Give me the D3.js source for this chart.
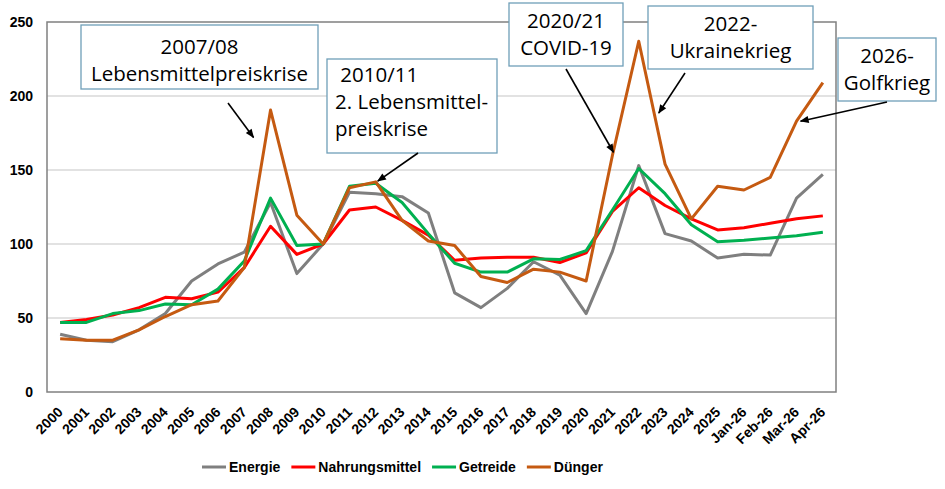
<!DOCTYPE html>
<html>
<head>
<meta charset="utf-8">
<script src="https://cdn.jsdelivr.net/npm/d3@7"></script>
<style>
  html, body { margin: 0; padding: 0; background: #fff; }
  svg { display: block; }
</style>
</head>
<body>
<svg id="chart" width="945" height="489"></svg>
<script>
// ---------- data ----------
const categories = ["2000","2001","2002","2003","2004","2005","2006","2007","2008","2009",
  "2010","2011","2012","2013","2014","2015","2016","2017","2018","2019",
  "2020","2021","2022","2023","2024","2025","Jan-26","Feb-26","Mar-26","Apr-26"];

const energie = [39,35,34,42,53,75,86.5,94.5,128,80,100,135,134,132,121,67,57,70,88,79,53,95,153,107,102,90.5,93,92.5,131,147];
const nahrungsmittel = [47,49,52,57,64,63,67.5,84,112,93,100,123,125,116,106,89,90.5,91,91,87.5,94,122,138,126,117,109.5,111,114,117,119];
const getreide = [47,47,53,55,59.5,59,69.5,88.5,131,99,100,139,141,128,107,87,81,81,90,89.5,95.5,123,151,134,113,101.5,102.5,104,105.5,108];
const duenger = [36,35,35,42,51,59,61.5,84,190.5,119.5,100,138,142,116,102,99,78,74,83,81,75,160,237,154,117,139,136.5,145,183,209];

const seriesNames = ["Energie","Nahrungsmittel","Getreide","Dünger"];
const seriesValues = [energie, nahrungsmittel, getreide, duenger];
const seriesColors = ["#7f7f7f","#ff0000","#00b050","#c55a11"];

const yTicks = [0,50,100,150,200,250];

// annotations: text lines, target category/value
const annotations = [
  { lines: ["2007/08","Lebensmittelpreiskrise"], align: "middle", box: [81,25,318,89], base: 54, target: ["2008",172], dx: -17, from: [228,103] },
  { lines: ["\u00a02010/11","2. Lebensmittel-","preiskrise"], align: "start", box: [327,59,497,153], base: 82, target: ["2012",142.5], dx: 2, from: [418,153] },
  { lines: ["2020/21","COVID-19"], align: "middle", box: [509,3,623,66], base: 28, target: ["2021",162], dx: 1, from: [566,69] },
  { lines: ["2022-","Ukrainekrieg"], align: "middle", box: [648,6,813,69], base: 31, target: ["2022",188.5], dx: 20, from: [685,73] },
  { lines: ["2026-","Golfkrieg"], align: "middle", box: [838,38,936,101], base: 63, target: ["Mar-26",183], dx: 4, from: [887,102] }
];

// ---------- layout ----------
const svg = d3.select("#chart");
const plot = { left: 47, right: 836, top: 22, bottom: 392 };

const x = d3.scalePoint().domain(categories).range([plot.left, plot.right]).padding(0.5);
const y = d3.scaleLinear().domain([0, 250]).range([plot.bottom, plot.top]);

// gridlines
svg.append("g").selectAll("line").data(yTicks.filter(t => t > 0 && t < 250)).join("line")
  .attr("x1", plot.left).attr("x2", plot.right)
  .attr("y1", d => y(d)).attr("y2", d => y(d))
  .attr("stroke", "#d9d9d9").attr("stroke-width", 1.5);

// frame
svg.append("rect")
  .attr("x", plot.left).attr("y", plot.top)
  .attr("width", plot.right - plot.left).attr("height", plot.bottom - plot.top)
  .attr("fill", "none").attr("stroke", "#808080").attr("stroke-width", 1.5);

// y axis labels
const yAxis = d3.axisLeft(y).tickValues(yTicks).tickSize(0).tickPadding(14);
const gy = svg.append("g").attr("transform", `translate(${plot.left},0)`).call(yAxis);
gy.select(".domain").remove();
gy.selectAll("text")
  .attr("font-family", "Liberation Sans, Arial, sans-serif")
  .attr("font-weight", "bold").attr("font-size", 14).attr("fill", "#000");

// x axis labels
const xAxis = d3.axisBottom(x).tickSize(0).tickPadding(0);
const gx = svg.append("g").attr("transform", `translate(0,${plot.bottom})`).call(xAxis);
gx.select(".domain").remove();
gx.selectAll("text")
  .attr("font-family", "Liberation Sans, Arial, sans-serif")
  .attr("font-weight", "bold").attr("font-size", 14).attr("fill", "#000")
  .attr("text-anchor", "end")
  .attr("dy", 0)
  .attr("transform", "translate(3,21) rotate(-45)");

// lines
const line = d3.line().x((d, i) => x(categories[i])).y(d => y(d));
svg.append("g").selectAll("path").data(seriesValues).join("path")
  .attr("d", d => line(d))
  .attr("fill", "none")
  .attr("stroke", (d, i) => seriesColors[i])
  .attr("stroke-width", 3)
  .attr("stroke-linejoin", "round");

// arrow marker
svg.append("defs").append("marker")
  .attr("id", "arrow").attr("viewBox", "0 0 10 10")
  .attr("refX", 9).attr("refY", 5)
  .attr("markerUnits", "userSpaceOnUse")
  .attr("markerWidth", 10).attr("markerHeight", 9)
  .attr("orient", "auto")
  .append("path").attr("d", "M0,1 L10,5 L0,9 z").attr("fill", "#000");

// annotations
const ga = svg.append("g");
annotations.forEach(a => {
  const [x0, y0, x1, y1] = a.box;
  ga.append("rect")
    .attr("x", x0).attr("y", y0).attr("width", x1 - x0).attr("height", y1 - y0)
    .attr("fill", "#fff").attr("stroke", "#6f9fb8").attr("stroke-width", 1.3);
  const tx = a.align === "middle" ? (x0 + x1) / 2 : x0 + 8;
  const t = ga.append("text")
    .attr("font-family", "Open Sans, Noto Sans, sans-serif")
    .attr("font-size", 20.5).attr("fill", "#000")
    .attr("text-anchor", a.align);
  a.lines.forEach((ln, i) => {
    t.append("tspan").attr("x", tx).attr("y", a.base + i * 27).text(ln);
  });
  ga.append("line")
    .attr("x1", a.from[0]).attr("y1", a.from[1])
    .attr("x2", x(a.target[0]) + a.dx).attr("y2", y(a.target[1]))
    .attr("stroke", "#000").attr("stroke-width", 1.6)
    .attr("marker-end", "url(#arrow)");
});

// legend
const lg = svg.append("g");
let lx = 202;
const ly = 467;
seriesNames.forEach((name, i) => {
  lg.append("line").attr("x1", lx).attr("x2", lx + 24).attr("y1", ly).attr("y2", ly)
    .attr("stroke", seriesColors[i]).attr("stroke-width", 3);
  const t = lg.append("text").attr("x", lx + 27).attr("y", ly + 5)
    .attr("font-family", "Liberation Sans, Arial, sans-serif")
    .attr("font-weight", "bold").attr("font-size", 14).attr("fill", "#000")
    .text(name);
  lx += 27 + t.node().getComputedTextLength() + 11;
});
</script>
</body>
</html>
